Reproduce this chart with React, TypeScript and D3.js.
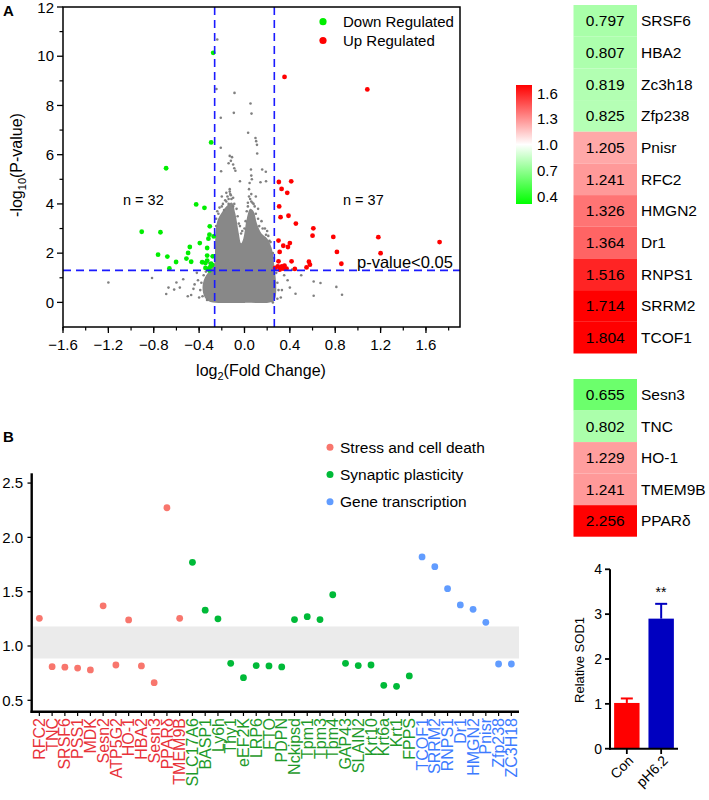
import React from "react";
import * as d3 from "d3";

// ---------- Panel A: volcano ----------
const volcanoXTicks = [-1.6, -1.2, -0.8, -0.4, 0.0, 0.4, 0.8, 1.2, 1.6];
const volcanoYTicks = [0, 2, 4, 6, 8, 10, 12];
const fcThreshold = 0.263;
const pThreshold = 1.301;

// dense core of non-significant genes (outline of the gray cloud)
const cloudOutline: [number, number][] = [
  [-0.3, 0.02], [-0.35, 0.2], [-0.37, 0.6], [-0.35, 1.0], [-0.3, 1.35], [-0.265, 1.6],
  [-0.26, 2.2], [-0.255, 2.8], [-0.24, 3.3], [-0.2, 3.65], [-0.15, 3.95], [-0.11, 4.05],
  [-0.08, 3.6], [-0.05, 2.8], [-0.03, 2.4], [-0.01, 2.6], [0.02, 3.4], [0.05, 3.8],
  [0.08, 3.7], [0.11, 3.2], [0.15, 2.8], [0.2, 2.6], [0.24, 2.2], [0.26, 1.6],
  [0.275, 1.0], [0.28, 0.5], [0.27, 0.15], [0.24, 0.02], [0.0, -0.02], [-0.2, -0.02],
];

const volcanoGray: [number, number][] = [
  [-0.24, 10.68], [-0.247, 8.67], [-0.088, 8.51], [0.053, 8.08], [-0.094, 7.7], [0.062, 7.67],
  [-0.209, 7.5], [0.032, 6.89], [0.097, 6.68], [0.103, 6.55], [0.11, 6.4], [-0.209, 6.28],
  [0.112, 6.05], [-0.13, 5.95], [-0.11, 5.9], [-0.12, 5.75], [-0.1, 5.6], [-0.14, 5.65],
  [-0.09, 5.45], [-0.08, 5.35], [-0.206, 5.33], [0.057, 5.4], [0.06, 5.15], [0.065, 5.0],
  [0.156, 5.4], [0.188, 5.31], [-0.04, 4.92], [0.141, 4.88], [0.19, 4.92], [0.045, 4.85],
  [-0.13, 4.5], [-0.12, 4.35], [-0.14, 4.2], [-0.1, 4.25], [-0.16, 4.1], [0.04, 4.3],
  [0.06, 4.1], [0.08, 4.0], [0.03, 4.05], [-0.2, 3.9], [-0.23, 3.6], [0.12, 3.8],
  [0.15, 3.3], [0.18, 3.0], [0.2, 2.9], [-0.05, 3.2], [-0.02, 2.9], [0.22, 2.5], [-0.25, 3.1],
  [-0.25, 3.4], [-0.24, 3.7], [-0.22, 3.85], [-0.19, 4.0], [-0.17, 4.15], [-0.15, 4.3],
  [-0.13, 4.6], [-0.125, 4.4], [-0.115, 4.2], [-0.09, 4.0], [-0.07, 3.8], [-0.06, 3.5],
  [-0.04, 3.1], [-0.03, 2.8], [-0.2, 4.3], [-0.18, 3.75], [-0.1, 3.9], [-0.16, 4.45], [-0.14, 4.0],
  [0.0, 3.0], [0.01, 3.3], [0.02, 3.7], [0.03, 3.9], [0.05, 4.2], [0.07, 4.05], [0.09, 3.9],
  [0.1, 3.6], [0.12, 3.4], [0.13, 3.1], [0.16, 3.0], [0.19, 2.75], [0.21, 2.7], [0.23, 2.45],
  [0.25, 2.0], [0.26, 1.8], [0.27, 1.4], [0.06, 4.4], [0.1, 4.3], [0.04, 4.6],
  [-0.36, 1.1], [-0.38, 0.8], [-0.39, 0.5], [-0.37, 0.25], [-0.33, 0.1], [-0.3, 1.5],
  [-0.28, 1.9], [0.28, 1.2], [0.29, 0.8], [0.3, 0.5], [0.29, 0.15], [0.25, 0.0],
  [-0.34, 1.25], [-0.31, 1.6],
  [-1.2, 0.81], [-0.815, 0.99], [-0.69, 0.34], [-0.67, 0.6], [-0.62, 0.52], [-0.57, 0.6],
  [-0.6, 0.81], [-0.54, 0.94], [-0.5, 0.25], [-0.47, 0.3], [-0.45, 0.55], [-0.44, 0.73],
  [-0.41, 0.9], [-0.4, 0.2], [-0.42, 1.2], [0.42, 1.33], [0.38, 0.9], [0.4, 0.6],
  [0.45, 0.35], [0.61, 0.85], [0.67, 0.79], [0.61, 0.27], [0.81, 0.63], [0.86, 0.31],
  [0.35, 1.1], [0.33, 0.5], [0.5, 1.1], [0.32, 0.2],
];

const volcanoGreen: [number, number][] = [
  [-0.276, 10.14], [-0.294, 6.5], [-0.691, 5.45], [-0.426, 3.98], [-0.353, 3.84], [-0.306, 3.09],
  [-0.906, 2.87], [-0.741, 2.85], [-0.309, 2.75], [-0.271, 2.68], [-0.318, 2.59], [-0.394, 2.41],
  [-0.482, 2.25], [-0.329, 2.21], [-0.762, 1.94], [-0.497, 2.01], [-0.68, 1.86], [-0.329, 1.9],
  [-0.28, 1.87], [-0.512, 1.78], [-0.603, 1.64], [-0.47, 1.65], [-0.373, 1.63], [-0.294, 1.57],
  [-0.329, 1.7], [-0.662, 1.38], [-0.344, 1.4], [-0.315, 1.37], [-0.3, 1.46], [-0.285, 1.52],
  [-0.309, 1.3], [-0.344, 1.6],
];

const volcanoRed: [number, number][] = [
  [0.353, 9.16], [1.083, 8.65], [0.303, 4.89], [0.412, 4.92], [0.327, 4.61], [0.377, 4.45],
  [0.306, 3.9], [0.318, 3.46], [0.388, 3.52], [0.453, 3.2], [0.607, 3.01], [0.6, 2.71],
  [0.783, 2.66], [0.3, 2.51], [0.342, 2.3], [0.383, 2.25], [0.4, 2.41], [0.31, 2.05],
  [0.815, 2.05], [0.415, 1.67], [0.568, 1.65], [0.577, 1.53], [0.854, 1.57], [0.3, 1.67],
  [0.294, 1.46], [0.318, 1.4], [0.33, 1.46], [0.34, 1.37], [0.353, 1.49], [0.371, 1.37],
  [0.444, 1.36], [0.547, 1.42], [0.31, 1.33], [0.27, 1.4], [1.18, 2.65], [1.2, 2.0], [1.72, 2.45],
];

// ---------- heatmaps ----------
const heat1Genes = ["SRSF6", "HBA2", "Zc3h18", "Zfp238", "Pnisr", "RFC2", "HMGN2", "Dr1", "RNPS1", "SRRM2", "TCOF1"];
const heat1Values = [0.797, 0.807, 0.819, 0.825, 1.205, 1.241, 1.326, 1.364, 1.516, 1.714, 1.804];
const heat2Genes = ["Sesn3", "TNC", "HO-1", "TMEM9B", "PPARδ"];
const heat2Values = [0.655, 0.802, 1.229, 1.241, 2.256];
const colorbarTicks = [1.6, 1.3, 1.0, 0.7, 0.4];

// ---------- Panel B ----------
const genesB = [
  "RFC2", "TNC", "SRSF6", "PSS1", "MDK", "Sesn2", "ATP5G2", "HO-1", "HBA2", "Sesn3", "PPARδ", "TMEM9B",
  "SLC17A6", "BASP1", "Ly6h", "Thy1", "eEF2K", "LRP6", "FTO", "PDPN", "Nckipsd", "Tpm1", "Tpm3", "Tpm4",
  "GAP43", "SLAIN2", "Krt10", "Krt6a", "Krt1", "FPPS",
  "TCOF1", "SRRM2", "RNPS1", "Dr1", "HMGN2", "Pnisr", "Zfp238", "ZC3H18",
];
const valuesB = [
  1.255, 0.81, 0.805, 0.797, 0.78, 1.37, 0.825, 1.24, 0.816, 0.662, 2.273, 1.255,
  1.77, 1.33, 1.25, 0.84, 0.708, 0.82, 0.816, 0.807, 1.243, 1.27, 1.243, 1.472,
  0.84, 0.82, 0.825, 0.638, 0.629, 0.724,
  1.82, 1.73, 1.528, 1.378, 1.338, 1.218, 0.834, 0.834,
];
const groupB = [
  0, 0, 0, 0, 0, 0, 0, 0, 0, 0, 0, 0,
  1, 1, 1, 1, 1, 1, 1, 1, 1, 1, 1, 1, 1, 1, 1, 1, 1, 1,
  2, 2, 2, 2, 2, 2, 2, 2,
];
const groupNames = ["Stress and cell death", "Synaptic plasticity", "Gene transcription"];
const bandRange = [0.885, 1.18];
const yTicksB = [0.5, 1.0, 1.5, 2.0, 2.5];

// ---------- SOD1 bars ----------
const sodGroups = ["Con", "pH6.2"];
const sodMeans = [1.02, 2.9];
const sodErrors = [0.1, 0.33];
const sodTicks = [0, 1, 2, 3, 4];

const FONT = "Liberation Sans, Arial, Helvetica, sans-serif";

export default function App() {
  // volcano
  const xV = d3.scaleLinear().domain([-1.6, 1.9]).range([63, 460]);
  const yV = d3.scaleLinear().domain([-1, 12]).range([327, 7]);
  const cloudPath = d3
    .line<[number, number]>()
    .x((d) => xV(d[0]))
    .y((d) => yV(d[1]))
    .curve(d3.curveCatmullRomClosed.alpha(0.5))(cloudOutline) as string;
  const xMinor = d3.range(-1.6, 1.81, 0.2);
  const yMinor = d3.range(1, 12, 2);
  const fmt1 = d3.format(".1f");

  // heatmaps
  const heatColor = d3
    .scaleLinear<string>()
    .domain([0.4, 1.0, 1.6])
    .range(["#00ff00", "#ffffff", "#ff0000"])
    .clamp(true);
  const yH1 = d3.scaleBand<string>().domain(heat1Genes).range([5, 353.5]);
  const yH2 = d3.scaleBand<string>().domain(heat2Genes).range([379, 536.7]);
  const hx0 = 573.5;
  const hx1 = 637;
  const yCB = d3.scaleLinear().domain([0.4, 1.6]).range([196.7, 93.3]);

  // panel B
  const xB = d3.scalePoint<string>().domain(genesB).range([31.7, 519]).padding(0.6);
  const yB = d3.scaleLinear().domain([0.395, 2.59]).range([711.7, 473.3]);
  const dotColors = ["#f8766d", "#00ba38", "#619cff"];
  const labelColors = ["#e8323a", "#1e9a2a", "#3d7bff"];

  // SOD1
  const xS = d3.scaleBand<string>().domain(sodGroups).range([610, 678]).paddingInner(0.26).paddingOuter(0.12);
  const yS = d3.scaleLinear().domain([0, 4]).range([748.7, 569.3]);
  const sodColors = ["#ff0000", "#0000c0"];

  return (
    <svg
      width={709}
      height={800}
      style={{ position: "absolute", left: 0, top: 0, background: "#fff" }}
      fontFamily={FONT}
    >
      <defs>
        <linearGradient id="cbgrad" x1="0" y1="1" x2="0" y2="0">
          <stop offset="0%" stopColor="#00ff00" />
          <stop offset="50%" stopColor="#ffffff" />
          <stop offset="100%" stopColor="#ff0000" />
        </linearGradient>
        <clipPath id="vclip">
          <rect x={63} y={7} width={397} height={320} />
        </clipPath>
      </defs>

      {/* ===== Panel A volcano ===== */}
      <text x={3} y={16} fontSize={15} fontWeight="bold">A</text>
      <g clipPath="url(#vclip)">
        <path d={cloudPath} fill="#888888" />
        {volcanoGray.map((d, i) => (
          <circle key={"g" + i} cx={xV(d[0])} cy={yV(d[1])} r={1.3} fill="#808080" />
        ))}
        {volcanoGreen.map((d, i) => (
          <circle key={"gr" + i} cx={xV(d[0])} cy={yV(d[1])} r={2.4} fill="#00ee00" />
        ))}
        {volcanoRed.map((d, i) => (
          <circle key={"rd" + i} cx={xV(d[0])} cy={yV(d[1])} r={2.4} fill="#ff0000" />
        ))}
        <line x1={xV(-fcThreshold)} x2={xV(-fcThreshold)} y1={7} y2={327} stroke="#1a1aff" strokeWidth={1.6} strokeDasharray="8,5" />
        <line x1={xV(fcThreshold)} x2={xV(fcThreshold)} y1={7} y2={327} stroke="#1a1aff" strokeWidth={1.6} strokeDasharray="8,5" />
        <line x1={63} x2={460} y1={yV(pThreshold)} y2={yV(pThreshold)} stroke="#1a1aff" strokeWidth={1.6} strokeDasharray="8,5" />
      </g>
      <rect x={63} y={7} width={397} height={320} fill="none" stroke="#000" strokeWidth={1.5} />
      {volcanoXTicks.map((t) => (
        <g key={"xt" + t}>
          <line x1={xV(t)} x2={xV(t)} y1={327} y2={333} stroke="#000" strokeWidth={1.3} />
          <text x={xV(t)} y={350} fontSize={15} textAnchor="middle">{fmt1(t)}</text>
        </g>
      ))}
      {xMinor.map((t, i) => (
        <line key={"xm" + i} x1={xV(t)} x2={xV(t)} y1={327} y2={330.5} stroke="#000" strokeWidth={1.2} />
      ))}
      {volcanoYTicks.map((t) => (
        <g key={"yt" + t}>
          <line x1={57} x2={63} y1={yV(t)} y2={yV(t)} stroke="#000" strokeWidth={1.3} />
          <text x={54} y={yV(t) + (t === 12 ? 1 : 0)} dy="0.35em" fontSize={15} textAnchor="end">{t}</text>
        </g>
      ))}
      {yMinor.map((t) => (
        <line key={"ym" + t} x1={59.5} x2={63} y1={yV(t)} y2={yV(t)} stroke="#000" strokeWidth={1.2} />
      ))}
      <text transform="translate(22,165) rotate(-90)" textAnchor="middle" fontSize={16}>
        -log<tspan fontSize={11} dy={4}>10</tspan><tspan dy={-4}>(P-value)</tspan>
      </text>
      <text x={261} y={376} textAnchor="middle" fontSize={16}>
        log<tspan fontSize={11} dy={4}>2</tspan><tspan dy={-4}>(Fold Change)</tspan>
      </text>
      <circle cx={323} cy={21.7} r={3.6} fill="#00ee00" />
      <circle cx={323} cy={40.5} r={3.6} fill="#ff0000" />
      <text x={343} y={21.7} dy="0.35em" fontSize={15}>Down Regulated</text>
      <text x={343} y={40.5} dy="0.35em" fontSize={15}>Up Regulated</text>
      <text x={123} y={200} dy="0.35em" fontSize={14.5}>n = 32</text>
      <text x={343} y={200} dy="0.35em" fontSize={14.5}>n = 37</text>
      <text x={357} y={262} dy="0.35em" fontSize={16.5}>p-value&lt;0.05</text>

      {/* ===== colorbar ===== */}
      <rect x={516} y={85} width={16} height={119} fill="url(#cbgrad)" />
      {colorbarTicks.map((t) => (
        <text key={"cb" + t} x={537} y={yCB(t)} dy="0.35em" fontSize={15}>{t.toFixed(1)}</text>
      ))}

      {/* ===== heatmap 1 ===== */}
      {heat1Genes.map((g, i) => (
        <g key={"h1" + g}>
          <rect x={hx0} y={yH1(g)} width={hx1 - hx0} height={yH1.bandwidth()} fill={heatColor(heat1Values[i])} />
          <text x={(hx0 + hx1) / 2} y={(yH1(g) as number) + yH1.bandwidth() / 2} dy="0.35em" textAnchor="middle" fontSize={15.5}>
            {heat1Values[i].toFixed(3)}
          </text>
          <text x={641} y={(yH1(g) as number) + yH1.bandwidth() / 2} dy="0.35em" fontSize={15.5}>{g}</text>
        </g>
      ))}
      {/* ===== heatmap 2 ===== */}
      {heat2Genes.map((g, i) => (
        <g key={"h2" + g}>
          <rect x={hx0} y={yH2(g)} width={hx1 - hx0} height={yH2.bandwidth()} fill={heatColor(heat2Values[i])} />
          <text x={(hx0 + hx1) / 2} y={(yH2(g) as number) + yH2.bandwidth() / 2} dy="0.35em" textAnchor="middle" fontSize={15.5}>
            {heat2Values[i].toFixed(3)}
          </text>
          <text x={641} y={(yH2(g) as number) + yH2.bandwidth() / 2} dy="0.35em" fontSize={15.5}>{g}</text>
        </g>
      ))}

      {/* ===== Panel B ===== */}
      <text x={3} y={442} fontSize={15} fontWeight="bold">B</text>
      <rect x={33} y={yB(bandRange[1])} width={519 - 33} height={yB(bandRange[0]) - yB(bandRange[1])} fill="#ebebeb" />
      <line x1={31.7} x2={31.7} y1={473.3} y2={712.9} stroke="#000" strokeWidth={2.4} />
      <line x1={30.5} x2={519} y1={711.7} y2={711.7} stroke="#000" strokeWidth={2.4} />
      {yTicksB.map((t) => (
        <g key={"byt" + t}>
          <line x1={27.5} x2={31.7} y1={yB(t)} y2={yB(t)} stroke="#000" strokeWidth={1.3} />
          <text x={23} y={yB(t)} dy="0.35em" textAnchor="end" fontSize={15}>{t.toFixed(1)}</text>
        </g>
      ))}
      {genesB.map((g, i) => (
        <g key={"b" + i}>
          <line x1={xB(g)} x2={xB(g)} y1={711.7} y2={716} stroke="#000" strokeWidth={1.2} />
          <circle cx={xB(g)} cy={yB(valuesB[i])} r={3.4} fill={dotColors[groupB[i]]} />
          <text
            transform={`translate(${xB(g)},718) rotate(-90)`}
            textAnchor="end"
            dy="0.35em"
            fontSize={16}
            fill={labelColors[groupB[i]]}
          >
            {g}
          </text>
        </g>
      ))}
      {groupNames.map((n, i) => (
        <g key={"lg" + i}>
          <circle cx={330} cy={447.3 + i * 27.2} r={3.5} fill={dotColors[i]} />
          <text x={340} y={447.3 + i * 27.2} dy="0.35em" fontSize={15.5}>{n}</text>
        </g>
      ))}

      {/* ===== SOD1 bars ===== */}
      {sodGroups.map((g, i) => {
        const x0 = xS(g) as number;
        const cx = x0 + xS.bandwidth() / 2;
        return (
          <g key={"s" + g}>
            <rect x={x0} y={yS(sodMeans[i])} width={xS.bandwidth()} height={yS(0) - yS(sodMeans[i])} fill={sodColors[i]} />
            <line x1={cx} x2={cx} y1={yS(sodMeans[i])} y2={yS(sodMeans[i] + sodErrors[i])} stroke={sodColors[i]} strokeWidth={2} />
            <line x1={cx - 6} x2={cx + 6} y1={yS(sodMeans[i] + sodErrors[i])} y2={yS(sodMeans[i] + sodErrors[i])} stroke={sodColors[i]} strokeWidth={2} />
            <line x1={cx} x2={cx} y1={748.7} y2={754} stroke="#000" strokeWidth={1.8} />
            <text transform={`translate(${cx + 4},758) rotate(-45)`} textAnchor="end" dy="0.35em" fontSize={14}>{g}</text>
          </g>
        );
      })}
      <line x1={610} x2={610} y1={569.3} y2={749.7} stroke="#000" strokeWidth={2} />
      <line x1={609} x2={678} y1={748.7} y2={748.7} stroke="#000" strokeWidth={2} />
      {sodTicks.map((t) => (
        <g key={"st" + t}>
          <line x1={605} x2={610} y1={yS(t)} y2={yS(t)} stroke="#000" strokeWidth={1.8} />
          <text x={602} y={yS(t)} dy="0.35em" textAnchor="end" fontSize={14}>{t}</text>
        </g>
      ))}
      <text x={661} y={597} textAnchor="middle" fontSize={14}>**</text>
      <text transform="translate(584,660) rotate(-90)" textAnchor="middle" fontSize={13}>Relative SOD1</text>
    </svg>
  );
}
